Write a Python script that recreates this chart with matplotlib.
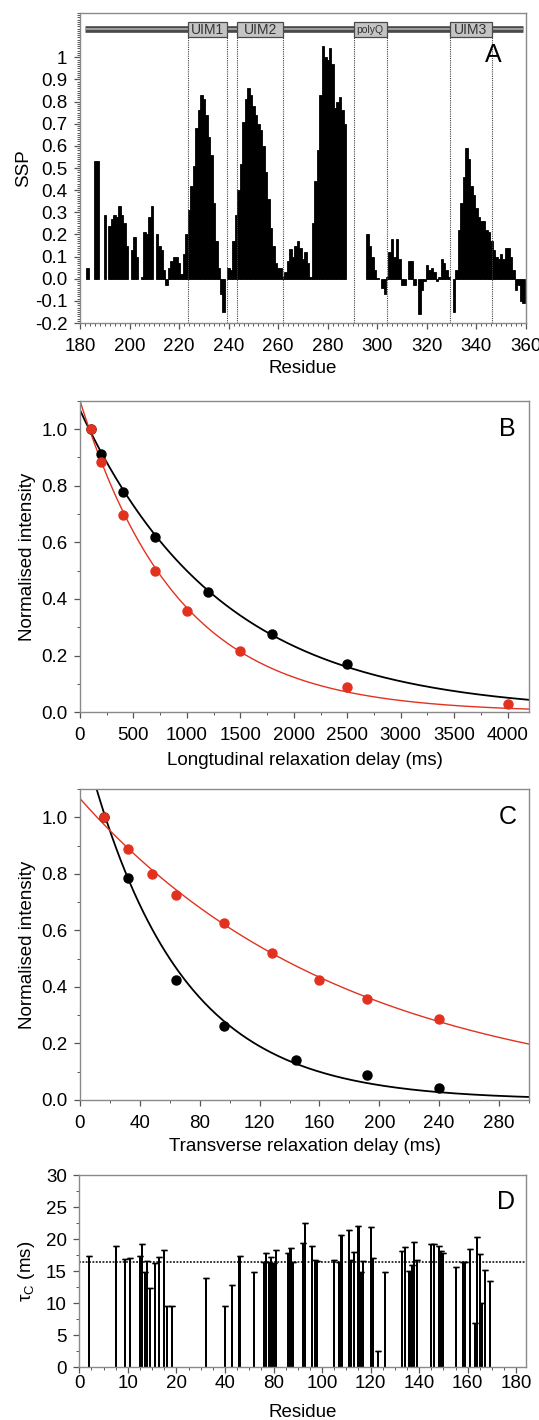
import matplotlib
matplotlib.use("Agg")
import matplotlib.pyplot as plt
import numpy as np
from matplotlib.patches import Rectangle
from matplotlib.ticker import MultipleLocator, FixedLocator

plt.rcParams['font.family'] = ['Liberation Sans', 'DejaVu Sans']
plt.rcParams['mathtext.fontset'] = 'custom'
plt.rcParams['mathtext.rm'] = 'Liberation Sans'
plt.rcParams['mathtext.it'] = 'Liberation Sans:italic'
plt.rcParams['mathtext.default'] = 'regular'

# ---- panel A: secondary structure propensity per residue
ssp_res = [183, 186, 187, 190,
           192, 193, 194, 195, 196, 197, 198, 199, 201, 202, 203,
           205, 206, 207, 208, 209, 211, 212, 213, 214, 215, 216, 217, 218, 219, 220,
           221, 222, 223, 224, 225, 226, 227, 228, 229, 230, 231, 232, 233, 234, 235,
           236, 237, 238,
           240, 241, 242, 243, 244, 245, 246, 247, 248, 249, 250, 251, 252, 253, 254,
           255, 256, 257, 258, 259, 260, 261, 262, 263, 264, 265, 266, 267, 268, 269,
           270, 271, 272, 273, 274, 275, 276, 277, 278, 279, 280, 281, 282, 283, 284,
           285, 286, 287,
           296, 297, 298, 299, 300, 302, 303, 304, 305, 306, 307, 308, 309, 310, 311,
           313, 314, 315, 317, 318, 319, 320, 321, 322, 323, 324, 325, 326, 327, 328,
           329, 331, 332, 333, 334, 335, 336, 337, 338, 339, 340, 341, 342, 343, 344,
           345, 346, 347, 348, 349, 350, 351, 352, 353, 354, 355, 356, 357, 358, 359]
ssp_val = [0.05, 0.53, 0.53, 0.29,
           0.24, 0.27, 0.29, 0.28, 0.33, 0.29, 0.25, 0.15, 0.13, 0.19, 0.10,
           0.01, 0.21, 0.20, 0.28, 0.33, 0.20, 0.15, 0.13, 0.04, -0.03, 0.05, 0.08, 0.10, 0.10, 0.07,
           0.02, 0.11, 0.20, 0.31, 0.42, 0.51, 0.68, 0.76, 0.83, 0.81, 0.74, 0.64, 0.56, 0.34, 0.17,
           0.05, -0.07, -0.15,
           0.05, 0.04, 0.17, 0.29, 0.40, 0.52, 0.71, 0.81, 0.86, 0.83, 0.78, 0.74, 0.70, 0.67, 0.60,
           0.48, 0.36, 0.23, 0.15, 0.07, 0.05, 0.05, 0.01, 0.03, 0.08, 0.135, 0.10, 0.15, 0.17, 0.14,
           0.09, 0.12, 0.07, 0.01, 0.25, 0.44, 0.58, 0.83, 1.05, 1.00, 0.99, 1.04, 0.97, 0.77, 0.80,
           0.82, 0.76, 0.70,
           0.20, 0.15, 0.10, 0.04, 0.005, -0.04, -0.07, 0.01, 0.12, 0.18, 0.10, 0.18, 0.09, -0.03, -0.03,
           0.08, 0.08, -0.03, -0.16, -0.05, -0.01, 0.06, 0.04, 0.05, 0.03, -0.01, 0.01, 0.09, 0.07, 0.04,
           0.01, -0.15, 0.04, 0.22, 0.34, 0.46, 0.59, 0.54, 0.42, 0.38, 0.32, 0.28, 0.26, 0.26, 0.22,
           0.21, 0.17, 0.13, 0.10, 0.09, 0.11, 0.09, 0.14, 0.14, 0.10, 0.04, -0.05, -0.03, -0.10, -0.11]

domain_names = ["UIM1", "UIM2", "polyQ", "UIM3"]
domain_start = [223.6, 243.4, 290.6, 329.3]
domain_end = [239.3, 262.0, 303.7, 346.1]
domain_fontsize = [10, 10, 7.5, 10]
ssp_yticks = [-0.2, -0.1, 0.0, 0.1, 0.2, 0.3, 0.4, 0.5, 0.6, 0.7, 0.8, 0.9, 1.0]
ssp_yticklabels = ["-0.2", "-0.1", "0.0", "0.1", "0.2", "0.3", "0.4", "0.5",
                   "0.6", "0.7", "0.8", "0.9", "1"]

# ---- panel B: longitudinal relaxation
t1_delay_black = [100, 200, 400, 700, 1200, 1800, 2500]
t1_int_black = [1.0, 0.913, 0.779, 0.618, 0.426, 0.276, 0.171]
t1_delay_red = [100, 200, 400, 700, 1000, 1500, 2500, 4000]
t1_int_red = [1.0, 0.885, 0.696, 0.499, 0.359, 0.216, 0.088, 0.028]
t1_fit_black = (1.067, 1317.0)   # amplitude, time constant (ms)
t1_fit_red = (1.10, 915.0)

# ---- panel C: transverse relaxation
t2_delay_black = [16, 32, 64, 96, 144, 192, 240]
t2_int_black = [1.0, 0.787, 0.424, 0.262, 0.14, 0.087, 0.041]
t2_delay_red = [16, 32, 48, 64, 96, 128, 160, 192, 240]
t2_int_red = [1.0, 0.887, 0.799, 0.725, 0.626, 0.52, 0.426, 0.358, 0.286]
t2_fit_black = (1.316, 62.0)
t2_fit_red = (1.067, 178.0)

# ---- panel D: correlation times (axis position as drawn, labels as printed)
tau_pos = [4, 15, 19, 21, 25, 26, 27, 28, 29, 31, 33, 35, 36, 38,
           52, 60, 63, 66, 72, 76, 77, 78, 79, 80, 81, 86, 87, 88, 92, 93,
           96, 97, 98, 105, 107, 108, 111, 112, 113, 115, 116, 117, 120, 121,
           123, 126, 133, 134, 136, 137, 138, 139, 145, 146, 148, 149, 150,
           155, 158, 159, 161, 163, 164, 165, 166, 167, 169]
tau_val = [17.4, 18.9, 16.9, 17.1, 17.4, 19.3, 14.8, 16.6, 12.3, 16.2, 17.2, 18.3, 9.5, 9.5,
           14.0, 9.6, 12.8, 17.3, 14.8, 16.5, 17.9, 16.5, 17.2, 16.2, 18.3, 17.8, 18.6, 16.5, 19.4, 22.5,
           19.0, 16.7, 16.6, 16.8, 16.5, 20.7, 21.4, 16.8, 18.0, 22.0, 14.8, 16.6, 21.9, 17.0,
           2.5, 14.9, 18.2, 18.7, 15.0, 16.0, 19.5, 16.8, 19.3, 19.3, 18.9, 18.1, 17.9,
           15.7, 16.5, 16.5, 18.4, 6.9, 20.4, 17.7, 10.0, 15.2, 13.5]
tau_mean = 16.5
tau_xticks = [0, 20, 40, 60, 80, 100, 120, 140, 160, 180]
tau_xticklabels = ["0", "10", "20", "40", "80", "100", "120", "140", "160", "180"]

RED = "#e2321f"
SPINE = "#8a8a8a"
FS = 13.5

fig = plt.figure(figsize=(5.39, 14.2), dpi=100)
axA = fig.add_axes([0.1484, 0.7725, 0.8275, 0.2183])
axB = fig.add_axes([0.1484, 0.4984, 0.8330, 0.2194])
axC = fig.add_axes([0.1484, 0.2254, 0.8330, 0.2188])
axD = fig.add_axes([0.1471, 0.0371, 0.8288, 0.1354])


def style(ax, xpad=6.0):
    for s in ax.spines.values():
        s.set_color(SPINE)
        s.set_linewidth(1.0)
    ax.tick_params(which="both", direction="out", color="#555555", labelsize=FS,
                   top=False, right=False)
    ax.tick_params(which="major", length=4.5, width=0.9)
    ax.tick_params(which="minor", length=2.5, width=0.7)
    ax.tick_params(axis="x", which="major", pad=xpad)
    ax.tick_params(axis="y", which="major", pad=4.5)


# A
axA.bar(ssp_res, ssp_val, width=1.0, color="black", edgecolor="black", linewidth=0.6)
axA.plot([182, 358.8], [1.127, 1.127], color="#4a4a4a", lw=4.8, solid_capstyle="butt", zorder=3)
axA.plot([182, 358.8], [1.127, 1.127], color="#a0a0a0", lw=1.4, solid_capstyle="butt", zorder=3)
for name, x0, x1, fs in zip(domain_names, domain_start, domain_end, domain_fontsize):
    axA.add_patch(Rectangle((x0, 1.09), x1 - x0, 0.068, facecolor="#c4c4c4",
                            edgecolor="#4a4a4a", lw=0.9, zorder=4))
    axA.text((x0 + x1) / 2, 1.124, name, ha="center", va="center", fontsize=fs,
             color="#333333", zorder=5)
    for xv in (x0, x1):
        axA.plot([xv, xv], [-0.2, 1.09], color="#444444", lw=0.8, ls=(0, (1, 1)), zorder=2)
axA.set_xlim(180, 360)
axA.set_ylim(-0.2, 1.2)
axA.xaxis.set_major_locator(MultipleLocator(20))
axA.xaxis.set_minor_locator(MultipleLocator(2))
axA.yaxis.set_major_locator(FixedLocator(ssp_yticks))
axA.set_yticklabels(ssp_yticklabels)
axA.yaxis.set_minor_locator(MultipleLocator(0.01))
style(axA)
axA.set_xlabel("Residue", fontsize=FS, labelpad=4)
axA.set_ylabel("SSP", fontsize=FS, labelpad=2)
axA.text(0.926, 0.865, "A", transform=axA.transAxes, fontsize=18, ha="center", va="center")

# B
tB = np.linspace(0, 4200, 300)
axB.plot(tB, t1_fit_black[0] * np.exp(-tB / t1_fit_black[1]), color="black", lw=1.3)
axB.plot(tB, t1_fit_red[0] * np.exp(-tB / t1_fit_red[1]), color=RED, lw=1.0)
axB.plot(t1_delay_black, t1_int_black, "o", color="black", ms=6.5)
axB.plot(t1_delay_red, t1_int_red, "o", color=RED, ms=6.5)
axB.set_xlim(0, 4200)
axB.set_ylim(0, 1.1)
axB.xaxis.set_major_locator(MultipleLocator(500))
axB.xaxis.set_minor_locator(MultipleLocator(250))
axB.yaxis.set_major_locator(FixedLocator([0.0, 0.2, 0.4, 0.6, 0.8, 1.0]))
axB.yaxis.set_minor_locator(MultipleLocator(0.1))
axB.yaxis.set_major_formatter(plt.FormatStrFormatter("%.1f"))
style(axB)
axB.set_xlabel("Longtudinal relaxation delay (ms)", fontsize=FS, labelpad=6)
axB.set_ylabel("Normalised intensity", fontsize=FS, labelpad=4)
axB.text(0.952, 0.909, "B", transform=axB.transAxes, fontsize=18, ha="center", va="center")

# C
tC = np.linspace(0, 300, 300)
axC.plot(tC, t2_fit_black[0] * np.exp(-tC / t2_fit_black[1]), color="black", lw=1.3)
axC.plot(tC, t2_fit_red[0] * np.exp(-tC / t2_fit_red[1]), color=RED, lw=1.0)
axC.plot(t2_delay_black, t2_int_black, "o", color="black", ms=6.5)
axC.plot(t2_delay_red, t2_int_red, "o", color=RED, ms=6.5)
axC.set_xlim(0, 300)
axC.set_ylim(0, 1.1)
axC.xaxis.set_major_locator(MultipleLocator(40))
axC.xaxis.set_minor_locator(MultipleLocator(20))
axC.yaxis.set_major_locator(FixedLocator([0.0, 0.2, 0.4, 0.6, 0.8, 1.0]))
axC.yaxis.set_minor_locator(MultipleLocator(0.1))
axC.yaxis.set_major_formatter(plt.FormatStrFormatter("%.1f"))
style(axC)
axC.set_xlabel("Transverse relaxation delay (ms)", fontsize=FS, labelpad=5)
axC.set_ylabel("Normalised intensity", fontsize=FS, labelpad=4)
axC.text(0.952, 0.91, "C", transform=axC.transAxes, fontsize=18, ha="center", va="center")

# D
axD.bar(tau_pos, tau_val, width=0.85, color="black", linewidth=0)
axD.errorbar(tau_pos, tau_val, yerr=np.zeros(len(tau_val)), fmt="none", ecolor="black",
             elinewidth=0, capsize=2.2, capthick=1.0)
axD.axhline(tau_mean, color="black", lw=1.1, ls=(0, (1.2, 1.0)))
axD.set_xlim(0, 184)
axD.set_ylim(0, 30)
axD.xaxis.set_major_locator(FixedLocator(tau_xticks))
axD.set_xticklabels(tau_xticklabels)
axD.xaxis.set_minor_locator(MultipleLocator(5))
axD.yaxis.set_major_locator(MultipleLocator(5))
axD.yaxis.set_minor_locator(MultipleLocator(2.5))
style(axD, xpad=1.0)
axD.set_xlabel("Residue", fontsize=FS, labelpad=9)
axD.set_ylabel(r"$\tau_{C}$ (ms)", fontsize=FS, labelpad=6)
axD.text(0.955, 0.861, "D", transform=axD.transAxes, fontsize=18, ha="center", va="center")

fig.savefig("out.png", dpi=100, facecolor="white")
